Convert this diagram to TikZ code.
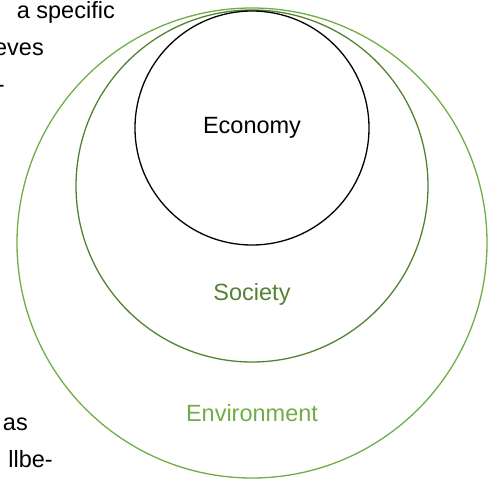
\documentclass[tikz,border=0pt]{standalone}
\usepackage{fontspec}
\setmainfont{Liberation Sans}
\usepackage{xcolor}
\usetikzlibrary{positioning}
\definecolor{envgreen}{RGB}{112,173,71}
\definecolor{socgreen}{RGB}{84,130,53}

\begin{document}
\begin{tikzpicture}[x=1pt,y=-1pt,
  ring/.style={circle,draw,line width=1.3pt,inner sep=0pt},
  tag/.style={font=\fontsize{23.5}{28}\selectfont},
  cut/.style={font=\fontsize{23.5}{28}\selectfont,anchor=base east,inner sep=0pt}
]
\useasboundingbox (0,0) rectangle (493,479);
\clip (0,0) rectangle (493,479);
% the three nested spheres
\node[ring,draw=envgreen,minimum size=470pt] (env) at (252,243) {};
\node[ring,draw=socgreen,minimum size=352pt] (soc) at (252,186) {};
\node[ring,draw=black,minimum size=234pt] (eco) at (252,128) {};
\node[tag] (ecolbl) at (eco.center) {Economy};
\node[tag,text=socgreen] (soclbl) at (252,294) {Society};
\node[tag,text=envgreen] (envlbl) at (252,413) {Environment};
% text running in from the page on the left
\node[cut] (t1) at (115,18) {a specific};
\node[cut] (t2) at (44,55) {eves};
\node[cut] (t3) at (5,92) {-};
\node[cut] (t4) at (28,430) {as};
\node[cut] (t5) at (53,467) {llbe-};
\end{tikzpicture}
\end{document}
